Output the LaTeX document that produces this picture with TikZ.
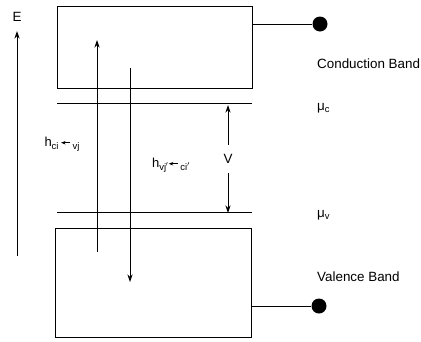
\documentclass[tikz,border=0pt]{standalone}
\usepackage{fontspec}
\setmainfont{Liberation Sans}
\usetikzlibrary{arrows.meta}
% small filled arrow used inside the transition labels
\newcommand{\smallarrow}{\tikz[baseline=-3.5pt]\draw[line width=0.7pt,-{Stealth[length=4.5pt,width=3.5pt]}] (9pt,0) -- (0,0);}
% lowered subscript in the label font
\newcommand{\lowsub}[1]{\raisebox{-3pt}{\fontsize{9.5}{10}\selectfont #1}}
\begin{document}
\begin{tikzpicture}[x=1pt,y=-1pt,
  band/.style={draw,line width=0.9pt,inner sep=0pt},
  level/.style={line width=0.9pt},
  arr/.style={line width=0.8pt,-{Stealth[length=7.5pt,width=5pt]}},
  dot/.style={circle,fill=black,inner sep=0pt,minimum size=15pt},
  lbl/.style={font=\fontsize{13.4}{15}\selectfont,inner sep=0pt},
  tlbl/.style={font=\fontsize{13}{15}\selectfont,inner sep=0pt}]
\useasboundingbox (0,0) rectangle (421,341);

% bands
\node[band,minimum width=195pt,minimum height=82pt] (cb) at (154.5,47.5) {};
\node[band,minimum width=196pt,minimum height=109pt] (vb) at (153,282.5) {};

% contacts
\node[dot] (dotc) at (320,24) {};
\node[dot] (dotv) at (319,306) {};
\draw[line width=0.8pt] (cb.east |- dotc) -- (dotc);
\draw[line width=0.8pt] (vb.east |- dotv) -- (dotv);

% chemical potential levels
\coordinate (mucl) at (57,103);
\coordinate (mucr) at (252,103);
\coordinate (muvl) at (57,212);
\coordinate (muvr) at (252,212);
\draw[level] (mucl) -- (mucr);
\draw[level] (muvl) -- (muvr);

% energy axis
\node[lbl] (E) at (17,17) {E};
\coordinate (es) at (17,256);
\coordinate (ee) at (17,31);
\draw[arr] (es) -- (ee);

% transitions
\coordinate (ups) at (97,252);
\coordinate (upe) at (97,40);
\draw[arr] (ups) -- (upe);
\coordinate (dns) at (130,68);
\coordinate (dne) at (130,282);
\draw[arr] (dns) -- (dne);

% bias
\node[lbl,minimum height=28pt] (V) at (228,159) {V};
\coordinate (vt) at (228,105);
\coordinate (vbt) at (228,213);
\draw[arr] (V.north) -- (vt);
\draw[arr] (V.south) -- (vbt);

% labels
\node[tlbl] (hc) at (62,144) {h\lowsub{ci}\,\smallarrow\,\lowsub{vj}};
\node[tlbl] (hv) at (171,165) {h\lowsub{vj\kern-0.5pt$'$}\smallarrow\,\lowsub{ci$'$}};
\node[lbl,anchor=west] (cbl) at (317,64) {Conduction Band};
\node[lbl,anchor=west] (vbl) at (317,277) {Valence Band};
\node[lbl,anchor=west] (muc) at (317,108) {μ\textsubscript{c}};
\node[lbl,anchor=west] (muv) at (317,215) {μ\textsubscript{v}};
\end{tikzpicture}
\end{document}
